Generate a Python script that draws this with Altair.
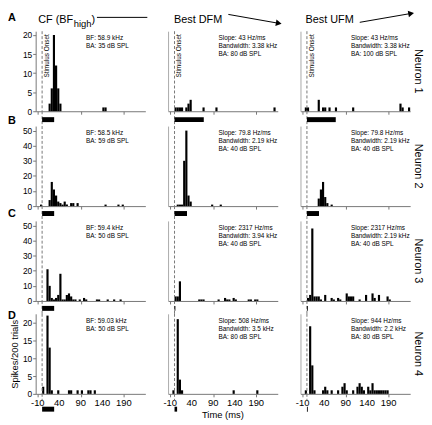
import altair as alt
import pandas as pd

# ---------------- data ----------------
BIN_MS = 5
TIME_DOMAIN = [-15, 240]
TIME_TICKS = [-10, 40, 90, 140, 190]

CF_TITLE = "CF (BF"
CF_SUBSCRIPT = "high"
COL_TITLES = ["Best DFM", "Best UFM"]
ROW_LETTERS = ["A", "B", "C", "D"]
NEURONS = ["Neuron 1", "Neuron 2", "Neuron 3", "Neuron 4"]
Y_LABEL = "Spikes/200 trials"
X_LABEL = "Time (ms)"
ONSET_LABEL = "Stimulus Onset"

Y_MAX = [21, 53, 53, 22.5]
Y_TICKS = [[0, 5, 10, 15, 20], [0, 10, 20, 30, 40, 50],
           [0, 10, 20, 30, 40, 50], [0, 5, 10, 15, 20]]

# PSTH bins (start time, ms) and spike counts
N1_CF_T = [15, 20, 25, 30, 35, 40, 140, 145]
N1_CF_N = [2, 6, 20, 12, 6, 2, 1, 1]
N1_DFM_T = [0, 5, 10, 15, 25, 30, 35, 65, 95, 230]
N1_DFM_N = [1, 1, 1, 1, 1, 2, 3, 1, 1, 1]
N1_UFM_T = [-5, 0, 25, 35, 40, 50, 65, 105, 215, 220, 235]
N1_UFM_N = [1, 1, 3, 1, 1, 1, 1, 1, 2, 1, 1]

N2_CF_T = [-5, 15, 20, 25, 30, 35, 40, 45, 50, 55, 65, 70, 80, 145, 175, 185]
N2_CF_N = [1, 4, 16, 11, 7, 3, 2, 1, 3, 1, 2, 2, 2, 1, 1, 1]
N2_DFM_T = [5, 10, 15, 20, 25, 30, 35, 85, 105]
N2_DFM_N = [1, 1, 1, 30, 50, 7, 3, 1, 1]
N2_UFM_T = [25, 30, 35, 40, 45, 55]
N2_UFM_N = [5, 11, 16, 6, 2, 1]

N3_CF_T = [10, 15, 20, 25, 30, 35, 40, 45, 50, 55, 60, 65, 70, 75, 85, 95, 100,
           125, 130, 150, 165, 180]
N3_CF_N = [21, 10, 2, 1, 2, 4, 18, 1, 1, 4, 5, 3, 1, 1, 1, 2, 1, 1, 1, 1, 1, 1]
N3_DFM_T = [0, 5, 10, 55, 60, 65, 100, 115, 120, 125, 135, 140, 170, 175, 185, 190]
N3_DFM_N = [3, 3, 13, 1, 1, 1, 1, 2, 1, 1, 2, 1, 1, 1, 1, 1]
N3_UFM_T = [0, 5, 10, 15, 20, 25, 30, 40, 55, 60, 70, 75, 90, 95, 100, 105, 120,
            135, 150, 155, 165, 185, 190]
N3_UFM_N = [2, 4, 48, 3, 3, 3, 1, 4, 2, 1, 2, 1, 5, 3, 3, 3, 1, 4, 5, 2, 4, 3, 1]

N4_CF_T = [0, 10, 15, 20, 35, 60, 65, 80, 90, 105, 110, 120]
N4_CF_N = [2, 22, 13, 1, 1, 1, 1, 1, 1, 1, 1, 1]
N4_DFM_T = [-5, 5, 10, 15, 135, 190]
N4_DFM_N = [1, 21, 4, 1, 1, 1]
N4_UFM_T = [-5, 5, 10, 15, 35, 40, 45, 55, 70, 80, 85, 90, 105, 115, 120, 125,
            130, 140, 145, 150, 155, 160, 165, 170, 175, 180, 185]
N4_UFM_N = [1, 19, 8, 1, 1, 2, 1, 1, 1, 2, 3, 1, 1, 2, 3, 2, 1, 2, 1, 3, 1, 1,
            1, 1, 1, 1, 1]

# stimulus duration (ms) per panel
STIM_OFF = [[28, 68, 67], [28, 29, 28], [28, 2, 2], [28, 6, 2]]

INFO = [
    [["BF: 58.9 kHz", "BA: 35 dB SPL"],
     ["Slope: 43 Hz/ms", "Bandwidth: 3.38 kHz", "BA: 80 dB SPL"],
     ["Slope: 43 Hz/ms", "Bandwidth: 3.38 kHz", "BA: 100 dB SPL"]],
    [["BF: 58.5 kHz", "BA: 59 dB SPL"],
     ["Slope: 79.8 Hz/ms", "Bandwidth: 2.19 kHz", "BA: 40 dB SPL"],
     ["Slope: 79.8 Hz/ms", "Bandwidth: 2.19 kHz", "BA: 40 dB SPL"]],
    [["BF: 59.4 kHz", "BA: 50 dB SPL"],
     ["Slope: 2317 Hz/ms", "Bandwidth: 3.94 kHz", "BA: 40 dB SPL"],
     ["Slope: 2317 Hz/ms", "Bandwidth: 2.19 kHz", "BA: 40 dB SPL"]],
    [["BF: 59.03 kHz", "BA: 50 dB SPL"],
     ["Slope: 508 Hz/ms", "Bandwidth: 3.5 kHz", "BA: 80 dB SPL"],
     ["Slope: 944 Hz/ms", "Bandwidth: 2.2 kHz", "BA: 80 dB SPL"]],
]

HISTS = [
    [(N1_CF_T, N1_CF_N), (N1_DFM_T, N1_DFM_N), (N1_UFM_T, N1_UFM_N)],
    [(N2_CF_T, N2_CF_N), (N2_DFM_T, N2_DFM_N), (N2_UFM_T, N2_UFM_N)],
    [(N3_CF_T, N3_CF_N), (N3_DFM_T, N3_DFM_N), (N3_UFM_T, N3_UFM_N)],
    [(N4_CF_T, N4_CF_N), (N4_DFM_T, N4_DFM_N), (N4_UFM_T, N4_UFM_N)],
]

# ---------------- style / layout ----------------
W, H = 111, 81
STIM_H = [15, 15, 13, 24]
STIM_BAR_Y = [(6, 11), (5, 10), (5, 10), (13, 18)]
LETTER_Y = [-13, -5, -7, 2]
AXIS_GRAY = "#777777"
LIGHT_GRAY = "#aaaaaa"
DASH_GRAY = "#777777"
FONT = "Liberation Sans"


def xscale():
    return alt.Scale(domain=TIME_DOMAIN, nice=False, zero=False)


def one():
    return alt.Chart(pd.DataFrame({"k": [0]}))


def onset_df():
    return pd.DataFrame({"onset": [0]})


def hist_panel(r, c):
    t, n = HISTS[r][c]
    df = pd.DataFrame({"start": t, "count": n})
    df["end"] = df["start"] + BIN_MS
    df["base"] = 0

    xa = dict(values=TIME_TICKS, labels=False, ticks=True, tickSize=3,
              grid=False, domainColor=AXIS_GRAY, tickColor=AXIS_GRAY,
              title=None)
    if c == 0:
        ya = dict(values=Y_TICKS[r], tickSize=3, grid=False,
                  domainColor=AXIS_GRAY, tickColor=AXIS_GRAY,
                  labelFontSize=8.5, labelPadding=1, labelColor="black",
                  labelOverlap=False)
        if r == 3:
            ya.update(title=Y_LABEL, titleFontSize=9.5, titleFontWeight="normal",
                      titlePadding=3, titleColor="black")
        else:
            ya.update(title=None)
    else:
        ya = dict(labels=False, ticks=False, grid=False, domainColor=LIGHT_GRAY,
                  title=None)

    layers = []
    layers.append(
        alt.Chart(df).mark_rect(color="black")
        .encode(
            x=alt.X("start:Q", scale=xscale(), axis=alt.Axis(**xa)),
            x2="end:Q",
            y=alt.Y("count:Q",
                    scale=alt.Scale(domain=[0, Y_MAX[r]], nice=False, zero=True),
                    axis=alt.Axis(**ya)),
            y2="base:Q",
        )
    )
    layers.append(
        alt.Chart(onset_df()).mark_rule(color=DASH_GRAY, strokeDash=[3, 2],
                                        strokeWidth=1)
        .encode(x=alt.X("onset:Q"))
    )
    layers.append(
        one().mark_text(text=INFO[r][c], align="left", baseline="top",
                        fontSize=6.5, lineHeight=8, color="black")
        .encode(x=alt.value(51), y=alt.value(4))
    )
    if r == 3:
        tick_df = pd.DataFrame({"tick": TIME_TICKS,
                                "label": [str(v) for v in TIME_TICKS]})
        layers.append(
            alt.Chart(tick_df).mark_text(align="center", baseline="top",
                                         fontSize=9.5, color="black")
            .encode(x="tick:Q", y=alt.value(H + 4), text="label:N")
        )
        if c == 1:
            layers.append(
                one().mark_text(text=X_LABEL, align="center", baseline="middle",
                                fontSize=9.5, color="black")
                .encode(x=alt.value(W / 2), y=alt.value(H + 21))
            )
    if r == 0:
        layers.append(
            alt.Chart(onset_df()).mark_text(text=ONSET_LABEL, angle=270,
                                            align="right", baseline="top",
                                            fontSize=6.5, dy=2, color="black")
            .encode(x="onset:Q", y=alt.value(3))
        )
    if c == 0:
        layers.append(
            one().mark_text(text=ROW_LETTERS[r], fontWeight="bold", fontSize=11,
                            align="center", baseline="middle", color="black")
            .encode(x=alt.value(-24), y=alt.value(LETTER_Y[r]))
        )
    if c == 2:
        layers.append(
            one().mark_text(text=NEURONS[r], angle=90, fontSize=11,
                            align="center", baseline="middle", color="black")
            .encode(x=alt.value(W + 8), y=alt.value(H / 2))
        )
    if r == 0:
        if c == 0:
            layers += [
                one().mark_text(text=CF_TITLE, align="right", baseline="alphabetic",
                                fontSize=11, color="black")
                .encode(x=alt.value(38), y=alt.value(-8)),
                one().mark_text(text=CF_SUBSCRIPT, align="left",
                                baseline="alphabetic", fontSize=9.5, color="black")
                .encode(x=alt.value(38.5), y=alt.value(-4.5)),
                one().mark_text(text=")", align="left", baseline="alphabetic",
                                fontSize=11, color="black")
                .encode(x=alt.value(56.5), y=alt.value(-8)),
                one().mark_rule(color="black", strokeWidth=1)
                .encode(x=alt.value(62), x2=alt.value(113),
                        y=alt.value(-14), y2=alt.value(-14)),
            ]
        elif c == 1:
            layers += [
                one().mark_text(text=COL_TITLES[0], align="left",
                                baseline="alphabetic", fontSize=11, color="black")
                .encode(x=alt.value(6), y=alt.value(-8)),
                one().mark_rule(color="black", strokeWidth=1)
                .encode(x=alt.value(61), x2=alt.value(112),
                        y=alt.value(-17), y2=alt.value(-8)),
                one().mark_point(shape="triangle-right", filled=True, size=45,
                                 angle=10, color="black", opacity=1)
                .encode(x=alt.value(112), y=alt.value(-8)),
            ]
        else:
            layers += [
                one().mark_text(text=COL_TITLES[1], align="left",
                                baseline="alphabetic", fontSize=11, color="black")
                .encode(x=alt.value(5), y=alt.value(-8)),
                one().mark_rule(color="black", strokeWidth=1)
                .encode(x=alt.value(60), x2=alt.value(112),
                        y=alt.value(-9), y2=alt.value(-18)),
                one().mark_point(shape="triangle-right", filled=True, size=45,
                                 angle=350, color="black", opacity=1)
                .encode(x=alt.value(112), y=alt.value(-18)),
            ]
    return alt.layer(*layers).properties(width=W, height=H)


def stim_panel(r, c):
    df = pd.DataFrame({"on": [0], "off": [STIM_OFF[r][c]]})
    y0, y1 = STIM_BAR_Y[r]
    rule_enc = dict(x=alt.X("onset:Q", scale=xscale(), axis=None))
    if r == 3:
        rule_enc.update(y=alt.value(0), y2=alt.value(7))
    dash = alt.Chart(onset_df()).mark_rule(
        color=DASH_GRAY, strokeDash=[3, 2], strokeWidth=1).encode(**rule_enc)
    bar = alt.Chart(df).mark_rect(color="black").encode(
        x=alt.X("on:Q", scale=xscale(), axis=None),
        x2="off:Q",
        y=alt.value(y0), y2=alt.value(y1),
    )
    return alt.layer(dash, bar).properties(width=W, height=STIM_H[r])


panels = []
for r in range(4):
    for c in range(3):
        panels.append(hist_panel(r, c))
    for c in range(3):
        panels.append(stim_panel(r, c))

chart = (
    alt.concat(*panels, columns=3, spacing={"row": 0, "column": 23},
               bounds="flush")
    .resolve_scale(x="independent", y="independent")
    .properties(padding=0)
    .configure(font=FONT)
    .configure_view(strokeWidth=0)
)

chart.save("out.html", embed_options={"renderer": "svg", "actions": False})
